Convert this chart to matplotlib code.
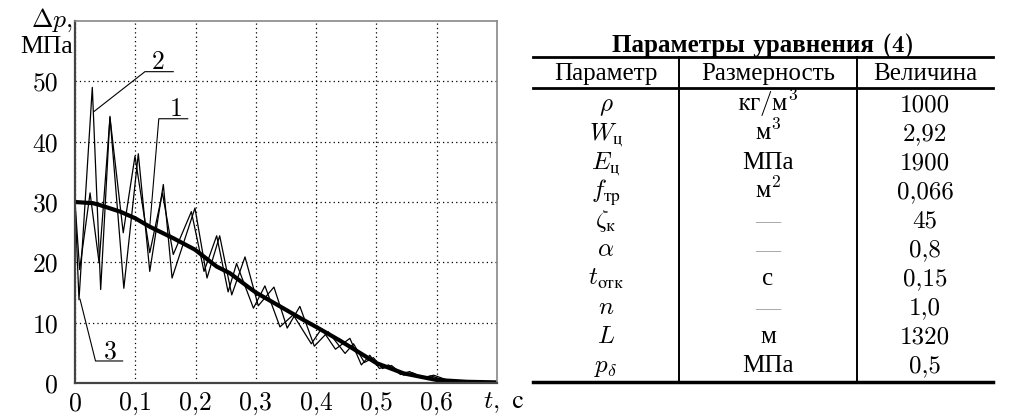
import numpy as np
import matplotlib.pyplot as plt

plt.rcParams['font.family'] = ['cmr10', 'Liberation Serif']
plt.rcParams['mathtext.fontset'] = 'cm'
plt.rcParams['axes.unicode_minus'] = False

# curve 1 (thin, smaller first peaks)
t1 = [0, 0.0077, 0.025, 0.040, 0.058, 0.080, 0.0995, 0.124, 0.145, 0.163,
      0.193, 0.214, 0.235, 0.254, 0.268, 0.296, 0.315, 0.340, 0.362, 0.392,
      0.409, 0.432, 0.456, 0.475, 0.489, 0.505, 0.52, 0.54, 0.555, 0.575,
      0.59, 0.615, 0.65, 0.7]
p1 = [30, 18.8, 31.5, 19.9, 44.0, 24.9, 37.6, 21.6, 31.5, 21.3,
      28.4, 18.5, 24.4, 15.1, 19.8, 12.4, 16.1, 9.3, 11.3, 6.5,
      9.0, 5.6, 7.4, 3.0, 4.6, 2.4, 3.0, 1.4, 1.9, 0.8,
      1.2, 0.4, 0.2, 0.1]

# curve 2 (thin, big first peak)
t2 = [0, 0.0066, 0.0287, 0.0426, 0.058, 0.081, 0.105, 0.124, 0.1465, 0.161,
      0.199, 0.219, 0.240, 0.260, 0.282, 0.304, 0.330, 0.352, 0.373, 0.397,
      0.42, 0.448, 0.462, 0.48, 0.495, 0.51, 0.525, 0.545, 0.56, 0.58,
      0.595, 0.62, 0.65, 0.7]
p2 = [30, 13.8, 49.0, 15.5, 44.2, 15.7, 38.0, 18.5, 32.9, 17.4,
      29.0, 17.4, 24.4, 14.6, 20.9, 12.8, 15.9, 9.1, 12.7, 6.1,
      8.5, 4.9, 6.5, 3.4, 4.2, 2.4, 2.9, 1.3, 1.7, 0.8,
      1.3, 0.4, 0.2, 0.1]

# smooth (thick) curve
t3 = [0, 0.03, 0.041, 0.075, 0.1, 0.124, 0.163, 0.199, 0.235, 0.257,
      0.2875, 0.30, 0.34, 0.38, 0.40, 0.44, 0.5, 0.545, 0.6, 0.65, 0.7]
p3 = [30.0, 29.8, 29.5, 28.4, 27.3, 25.9, 24.0, 22.1, 19.3, 18.2,
      15.9, 15.0, 12.7, 10.4, 9.3, 7.0, 3.3, 1.6, 0.5, 0.2, 0.1]

xticks = [0, 0.1, 0.2, 0.3, 0.4, 0.5, 0.6]
xtick_labels = ['0', '0,1', '0,2', '0,3', '0,4', '0,5', '0,6']
yticks = [0, 10, 20, 30, 40, 50]

table_title = 'Параметры уравнения (4)'
col_names = ['Параметр', 'Размерность', 'Величина']
params = [r'$\rho$', r'$W_{\mathrm{ц}}$', r'$E_{\mathrm{ц}}$', r'$f_{\mathrm{тр}}$',
          r'$\zeta_{\mathrm{к}}$', r'$\alpha$', r'$t_{\mathrm{отк}}$', r'$n$',
          r'$L$', r'$p_{\delta}$']
units = [r'$\mathrm{кг}/\mathrm{м}^3$', r'$\mathrm{м}^3$', 'МПа', r'$\mathrm{м}^2$',
         '—', '—', 'с', '—', 'м', 'МПа']
values = ['1000', '2,92', '1900', '0,066', '45', '0,8', '0,15', '1,0', '1320', '0,5']

W, H = 1014, 416
fig = plt.figure(figsize=(W / 100, H / 100), dpi=100)

# ---- chart ----
ax = fig.add_axes([75 / W, (H - 383) / H, (497 - 75) / W, (383 - 21) / H])
ax.plot(t1, p1, color='black', lw=0.9)
ax.plot(t2, p2, color='black', lw=0.9)
ax.plot(t3, p3, color='black', lw=3.0, solid_capstyle='butt')

ax.set_xlim(0, 0.7)
ax.set_ylim(0, 60)
ax.set_xticks(xticks)
ax.set_xticklabels(xtick_labels)
ax.set_yticks(yticks)
ax.tick_params(length=0, labelsize=18.5)
ax.tick_params(axis='y', pad=12)
ax.tick_params(axis='x', pad=6)
ax.grid(True, color='black', lw=0.9, linestyle=(0, (1, 2.5)))
for s in ['left', 'bottom']:
    ax.spines[s].set_color('#444444')
    ax.spines[s].set_linewidth(1.6)
for s in ['top', 'right']:
    ax.spines[s].set_color('#888888')
    ax.spines[s].set_linewidth(1.2)

# curve labels with leaders
ax.plot([0.0315, 0.116, 0.163], [45, 51.6, 51.6], color='black', lw=0.8)
ax.text(0.138, 52.0, '2', ha='center', va='baseline', fontsize=18.5)
ax.plot([0.124, 0.139, 0.187], [25.9, 43.8, 43.8], color='black', lw=0.8)
ax.text(0.167, 44.2, '1', ha='center', va='baseline', fontsize=18.5)
ax.plot([0.0083, 0.034, 0.079], [13.9, 3.65, 3.65], color='black', lw=0.8)
ax.text(0.058, 4.0, '3', ha='center', va='baseline', fontsize=18.5)

fig.text(73 / W, 1 - 27 / H, r'$\Delta p$,', ha='right', va='baseline', fontsize=18.5)
fig.text(73 / W, 1 - 53 / H, 'МПа', ha='right', va='baseline', fontsize=18.5)
fig.text(483 / W, 1 - 408 / H, r'$t,\ \mathrm{с}$', ha='left', va='baseline', fontsize=18.5)

# ---- table ----
tb = fig.add_axes([0, 0, 1, 1], zorder=-1)
tb.set_xlim(0, W)
tb.set_ylim(H, 0)
tb.axis('off')

x0, x1, x2, x3 = 533, 679, 857, 993
centers = [(x0 + x1) / 2, (x1 + x2) / 2, (x2 + x3) / 2]
tb.text((x0 + x3) / 2, 52, table_title, ha='center', va='baseline', fontsize=18,
        family=['cmb10', 'Liberation Serif'], weight='bold')
tb.plot([x0, x3], [57, 57], color='black', lw=2.0)
tb.plot([x0, x3], [88, 88], color='black', lw=2.0)
tb.plot([x0, x3], [382, 382], color='black', lw=2.5)
tb.plot([x1, x1], [57, 382], color='black', lw=1.4)
tb.plot([x2, x2], [57, 382], color='black', lw=1.4)
for c, name in zip(centers, col_names):
    tb.text(c, 80, name, ha='center', va='baseline', fontsize=18)

for i in range(len(params)):
    yb = 111 + i * 29.0
    tb.text(centers[0], yb, params[i], ha='center', va='baseline', fontsize=18)
    col = '#aaaaaa' if units[i] == '—' else 'black'
    tb.text(centers[1], yb, units[i], ha='center', va='baseline', fontsize=18, color=col)
    tb.text(centers[2], yb, values[i], ha='center', va='baseline', fontsize=18)

fig.savefig('out.png', dpi=100)
